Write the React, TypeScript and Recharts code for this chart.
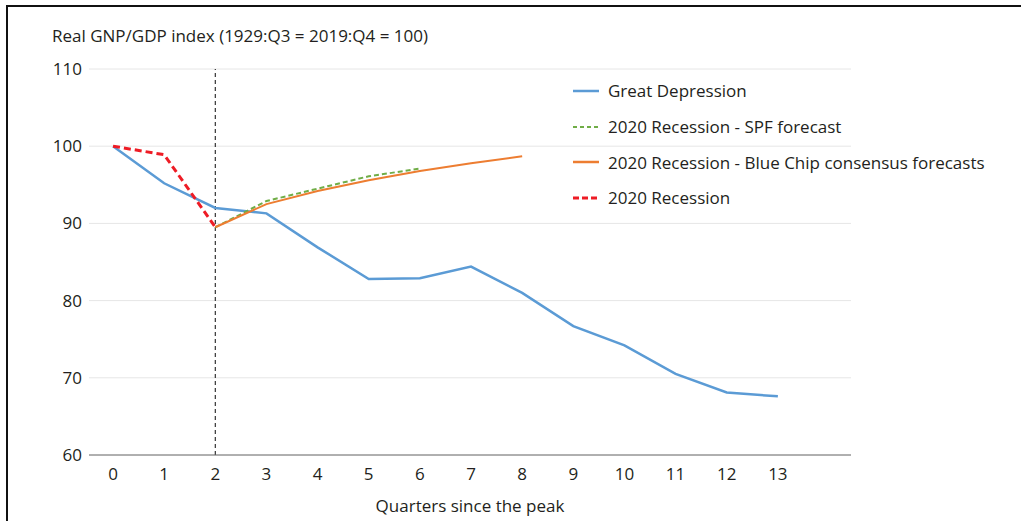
import React from 'react';
import { LineChart, Line, XAxis, YAxis, CartesianGrid, ReferenceLine } from 'recharts';

const quarters = [0, 1, 2, 3, 4, 5, 6, 7, 8, 9, 10, 11, 12, 13];
const greatDepression = [100, 95.2, 92.0, 91.3, 86.9, 82.8, 82.9, 84.4, 81.0, 76.7, 74.2, 70.5, 68.1, 67.6];
const spfForecast = [null, null, 89.5, 92.9, 94.5, 96.1, 97.1, null, null, null, null, null, null, null];
const blueChip = [null, null, 89.5, 92.5, 94.2, 95.6, 96.8, 97.8, 98.7, null, null, null, null, null];
const recession2020 = [100, 98.9, 89.5, null, null, null, null, null, null, null, null, null, null, null];
const yTicks = [60, 70, 80, 90, 100, 110];

const data = quarters.map((q, i) => ({
  q,
  gd: greatDepression[i],
  spf: spfForecast[i],
  bc: blueChip[i],
  rec: recession2020[i],
}));

const FONT = '"Open Sans", sans-serif';
const TEXT = '#231f20';
const FS = 17;

const legendItems = [
  { name: 'Great Depression', color: '#5b9bd5', dash: undefined, w: 2.5 },
  { name: '2020 Recession - SPF forecast', color: '#70ad47', dash: '4 3', w: 2 },
  { name: '2020 Recession - Blue Chip consensus forecasts', color: '#ed7d31', dash: undefined, w: 2.5 },
  { name: '2020 Recession', color: '#ee1c25', dash: '6 3', w: 3 },
];

function LegendBox() {
  return (
    <div style={{ fontFamily: FONT, fontSize: FS, color: TEXT, whiteSpace: 'nowrap' }}>
      {legendItems.map((it) => (
        <div key={it.name} style={{ display: 'flex', alignItems: 'center', height: 35.7 }}>
          <svg width={35} height={10}>
            <line x1={0} y1={5} x2={26} y2={5} stroke={it.color} strokeWidth={it.w} strokeDasharray={it.dash} />
          </svg>
          <span>{it.name}</span>
        </div>
      ))}
    </div>
  );
}

export default function App() {
  return (
    <div style={{ position: 'absolute', left: 0, top: 0, width: 1021, height: 521, background: '#fff', overflow: 'hidden' }}>
      <div style={{ position: 'absolute', left: 6, top: 5, width: 1100, height: 600, borderTop: '2px solid #111', borderLeft: '2px solid #111' }} />
      <div style={{ position: 'absolute', left: 0, top: 0 }}>
        <LineChart width={1021} height={521} data={data} margin={{ top: 69, right: 170, bottom: 0, left: 0 }}>
          <CartesianGrid vertical={false} stroke="#e6e6e6" />
          <XAxis
            dataKey="q"
            type="number"
            domain={[-0.47, 14.43]}
            ticks={quarters}
            interval={0}
            height={66}
            tickLine={false}
            tickSize={0}
            tickMargin={13}
            stroke="#6d6d6d"
            tick={{ fill: TEXT, fontSize: FS, fontFamily: FONT }}
            label={{ value: 'Quarters since the peak', position: 'insideBottom', offset: 9, fill: TEXT, fontSize: FS, fontFamily: FONT }}
          />
          <YAxis
            domain={[60, 110]}
            ticks={yTicks}
            width={89}
            axisLine={false}
            tickLine={false}
            tickSize={0}
            tickMargin={7}
            tick={{ fill: TEXT, fontSize: FS, fontFamily: FONT }}
          />
          <ReferenceLine x={2} stroke="#333" strokeDasharray="4 3" strokeWidth={1.2} />
          <Line dataKey="gd" name="Great Depression" stroke="#5b9bd5" strokeWidth={2.5} dot={false} isAnimationActive={false} />
          <Line dataKey="spf" name="2020 Recession - SPF forecast" stroke="#70ad47" strokeWidth={2} strokeDasharray="5 3" dot={false} isAnimationActive={false} />
          <Line dataKey="bc" name="2020 Recession - Blue Chip consensus forecasts" stroke="#ed7d31" strokeWidth={2} dot={false} isAnimationActive={false} />
          <Line dataKey="rec" name="2020 Recession" stroke="#ee1c25" strokeWidth={3} strokeDasharray="7 4" dot={false} isAnimationActive={false} />
        </LineChart>
      </div>
      <div style={{ position: 'absolute', left: 52, top: 24, fontFamily: FONT, fontSize: FS, color: TEXT, whiteSpace: 'nowrap' }}>
        Real GNP/GDP index (1929:Q3 = 2019:Q4 = 100)
      </div>
      <div style={{ position: 'absolute', left: 573, top: 73 }}>
        <LegendBox />
      </div>
    </div>
  );
}
